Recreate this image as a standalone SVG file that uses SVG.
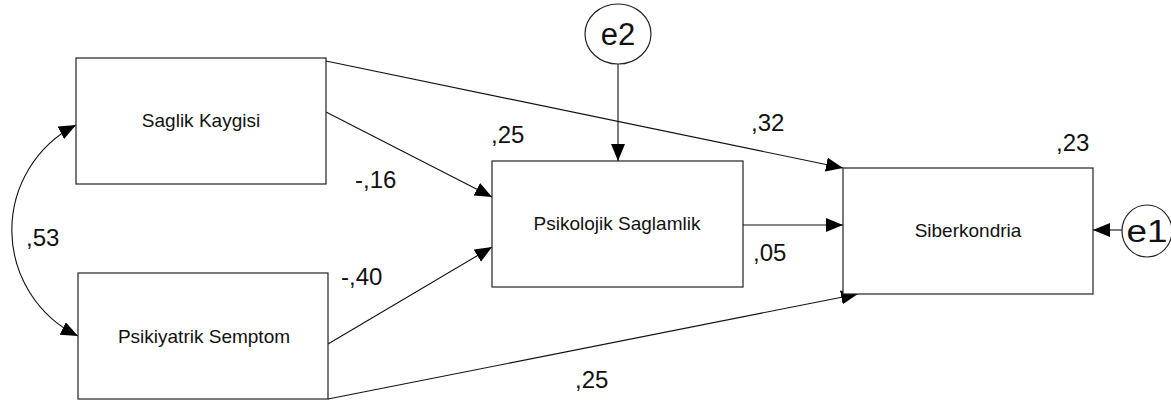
<svg xmlns="http://www.w3.org/2000/svg" width="1171" height="403" viewBox="0 0 1171 403">
<style>
.box{fill:#fff;stroke:#222;stroke-width:1.2}
.ell{fill:#fff;stroke:#222;stroke-width:1.2}
.lbl{font-family:"Liberation Sans",Arial,sans-serif;font-size:19px;fill:#111;text-anchor:middle}
.num{font-family:"Liberation Sans",Arial,sans-serif;font-size:24px;fill:#111}
.err{font-family:"Liberation Sans",Arial,sans-serif;font-size:31px;fill:#111;text-anchor:middle}
.con{fill:none;stroke:#111;stroke-width:1.1;marker-end:url(#ah)}
</style>
<defs>
<marker id="ah" markerUnits="userSpaceOnUse" markerWidth="18" markerHeight="15" refX="17" refY="7" orient="auto-start-reverse">
<path d="M0,0 L17,7 L0,14 z" fill="#000"/>
</marker>
</defs>
<g id="connectors">
<path class="con" d="M326,61 L843,168"/>
<path class="con" d="M326,112 L492,197"/>
<path class="con" d="M328,344 L492,247"/>
<path class="con" d="M328,399 L858,294"/>
<path class="con" d="M743,225 L843,225"/>
<path class="con" d="M618,64 L618,161"/>
<path class="con" d="M1122,230 L1093,230"/>
<path class="con" style="marker-start:url(#ah)" d="M76,125 A118,118 0 0 0 78,336"/>
</g>
<g id="saglik-kaygisi">
<rect class="box" x="76" y="58" width="250" height="126"/>
<text class="lbl" x="201" y="127">Saglik Kaygisi</text>
</g>
<g id="psikiyatrik-semptom">
<rect class="box" x="78" y="273" width="250" height="126"/>
<text class="lbl" x="204" y="343">Psikiyatrik Semptom</text>
</g>
<g id="psikolojik-saglamlik">
<rect class="box" x="492" y="161" width="251" height="126"/>
<text class="lbl" x="617" y="230">Psikolojik Saglamlik</text>
</g>
<g id="siberkondria">
<rect class="box" x="843" y="168" width="250" height="126"/>
<text class="lbl" x="968" y="237">Siberkondria</text>
</g>
<g id="e2">
<ellipse class="ell" cx="618" cy="34" rx="33" ry="30"/>
<text class="err" x="618" y="45">e2</text>
</g>
<g id="e1">
<ellipse class="ell" cx="1147" cy="231" rx="25" ry="26"/>
<text class="err" x="1147" y="242" textLength="41" lengthAdjust="spacingAndGlyphs">e1</text>
</g>
<g id="labels">
<text class="num" x="26" y="246">,53</text>
<text class="num" x="751" y="131">,32</text>
<text class="num" x="491" y="143">,25</text>
<text class="num" x="355" y="188">-,16</text>
<text class="num" x="753" y="261">,05</text>
<text class="num" x="341" y="285">-,40</text>
<text class="num" x="575" y="388">,25</text>
<text class="num" x="1056" y="151">,23</text>
</g>
</svg>
